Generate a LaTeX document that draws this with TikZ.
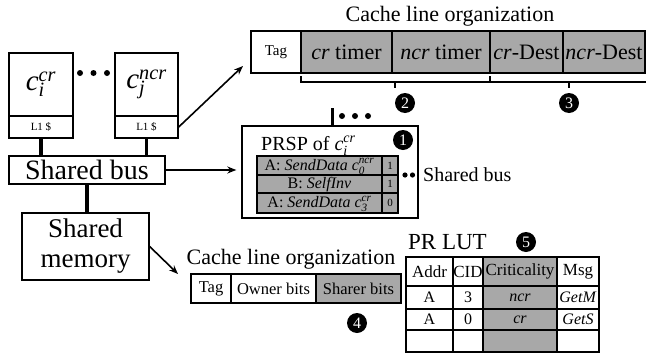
\documentclass[tikz,border=0pt]{standalone}
\usepackage{fontspec}
\setmainfont{Liberation Serif}
\usetikzlibrary{arrows.meta,calc}
\definecolor{cellgray}{RGB}{168,168,168}
\newcommand\fsz[1]{\fontsize{#1}{#1}\selectfont}
\newcommand\mkcell[7]{\node[#6, minimum width={#4-#2}, minimum height={#5-#3}] (#1) at ({(#2+#4)/2},{(#3+#5)/2}) {#7};}
\tikzset{
  box/.style={draw, line width=1.4pt, inner sep=0pt, fill=white},
  gbox/.style={box, fill=cellgray},
  rowtxt/.style={text height=12pt, text depth=3pt},
  bar/.style={line width=3.5pt},
  arr/.style={line width=1.6pt, -{Stealth[length=9pt,width=7pt]}},
  brk/.style={line width=1.2pt},
  numc/.style={circle, fill=black, text=white, minimum size=20pt, inner sep=0pt, font=\fsz{16}},
}
\begin{document}
\begin{tikzpicture}[x=1pt,y=-1pt]
\useasboundingbox (0,0) rectangle (646,362);
% cores
\mkcell{ci}{9}{53}{73}{116}{box, font=\fsz{29}}{$\mathit{c}_{\mathit{i}}^{\mathit{cr}}$}
\mkcell{ciL}{9}{116}{73}{138}{box, font=\fsz{11}}{L1 \$}
\mkcell{cj}{115}{53}{178}{116}{box, font=\fsz{29}}{$\mathit{c}_{\mathit{j}}^{\mathit{ncr}}$}
\mkcell{cjL}{115}{116}{178}{138}{box, font=\fsz{11}}{L1 \$}
\fill (80,73) circle (3pt) (93.5,73) circle (3pt) (107,73) circle (3pt);
% bus and memory
\mkcell{bus}{9}{156}{165}{184}{box, font=\fsz{28}}{Shared bus}
\mkcell{mem}{22}{213}{149}{280}{box, align=center, font=\fontsize{27}{30}\selectfont}{Shared\\memory}
\draw[bar] (ciL.south) -- (ciL.south |- bus.north);
\draw[bar] (cjL.south) -- (cjL.south |- bus.north);
\draw[bar, line width=4pt] (bus.south) -- (bus.south |- mem.north);
% top cache line
\node[font=\fsz{22}] (t1) at (450,16) {Cache line organization};
\mkcell{tag}{251}{31}{301}{73}{box, font=\fsz{15}}{Tag}
\mkcell{crt}{301}{31}{392}{73}{gbox, font=\fsz{22}}{\textit{cr} timer}
\mkcell{ncrt}{392}{31}{490}{73}{gbox, font=\fsz{22}}{\textit{ncr} timer}
\mkcell{crd}{490}{31}{563}{73}{gbox, font=\fsz{22}}{\textit{cr}-Dest}
\mkcell{ncrd}{563}{31}{645}{73}{gbox, font=\fsz{22}}{\textit{ncr}-Dest}
\draw[brk] (301,76) -- (301,82) -- (490,82) -- (490,76);
\draw[brk] (395,82) -- (395,88);
\draw[brk] (490,82) -- (646,82);
\draw[brk] (569,82) -- (569,88);
\node[numc] (n2) at (405,103) {2};
\node[numc] (n3) at (569,103) {3};
\coordinate (tagin) at (243,66);
\draw[arr] (cjL.east) -- (tagin);
% PRSP
\mkcell{prsp}{242}{126}{418}{218}{box}{}
\node[font=\fsz{20}, anchor=west, inner sep=0pt] (prspt) at (261,146) {PRSP of $\mathit{c}_{\mathit{i}}^{\mathit{cr}}$};
\node[numc] (n1) at (403,140) {1};
\coordinate (ptop) at (332,108);
\draw[bar, line width=3pt] (ptop) -- (ptop |- prsp.north);
\fill (342,116) circle (3pt) (355,116) circle (3pt) (368,116) circle (3pt);
\mkcell{r1}{257}{156}{382}{175}{gbox, rowtxt, font=\fsz{16}}{A: \textit{SendData} $\mathit{c}_{\mathit{0}}^{\mathit{ncr}}$}
\mkcell{r1b}{382}{156}{398}{175}{gbox, font=\fsz{11}}{1}
\mkcell{r2}{257}{175}{382}{193}{gbox, rowtxt, font=\fsz{16}}{B: \textit{SelfInv}}
\mkcell{r2b}{382}{175}{398}{193}{gbox, font=\fsz{11}}{1}
\mkcell{r3}{257}{193}{382}{213}{gbox, rowtxt, font=\fsz{16}}{A: \textit{SendData} $\mathit{c}_{\mathit{3}}^{\mathit{cr}}$}
\mkcell{r3b}{382}{193}{398}{213}{gbox, font=\fsz{11}}{0}
\draw[arr] (bus.east) -- ($(bus.east -| prsp.west)+(-5,0)$);
\fill (405,175) circle (2.6pt) (412.5,175) circle (2.6pt);
\node[font=\fsz{20}, anchor=west, inner sep=0pt] (sb2) at (423,175) {Shared bus};
% bottom cache line
\node[font=\fsz{22}] (t2) at (291,259) {Cache line organization};
\mkcell{btag}{191}{274}{231}{303}{box, font=\fsz{16.5}}{Tag}
\mkcell{bown}{231}{274}{316}{303}{box, font=\fsz{16.5}}{Owner bits}
\mkcell{bsh}{316}{274}{401}{303}{gbox, font=\fsz{16.5}}{Sharer bits}
\node[numc] (n4) at (357,323) {4};
\coordinate (memarr) at (178,274);
\draw[arr] (mem.east) -- (memarr);
% PR LUT
\node[font=\fsz{23}, anchor=west, inner sep=0pt] (lutt) at (408,242) {PR LUT};
\node[numc] (n5) at (526,242) {5};
\mkcell{h1}{406}{257}{453}{286}{box, font=\fsz{17}}{Addr}
\mkcell{h2}{453}{257}{483}{286}{box, font=\fsz{17}}{CID}
\mkcell{h3}{483}{257}{557}{286}{gbox, font=\fsz{17}}{Criticality}
\mkcell{h4}{557}{257}{599}{286}{box, font=\fsz{17}}{Msg}
\mkcell{a1}{406}{286}{453}{309}{box, font=\fsz{16}}{A}
\mkcell{a2}{453}{286}{483}{309}{box, font=\fsz{16}}{3}
\mkcell{a3}{483}{286}{557}{309}{gbox, font=\fsz{16}}{\textit{ncr}}
\mkcell{a4}{557}{286}{599}{309}{box, font=\fsz{16}}{\textit{GetM}}
\mkcell{b1}{406}{309}{453}{330}{box, font=\fsz{16}}{A}
\mkcell{b2}{453}{309}{483}{330}{box, font=\fsz{16}}{0}
\mkcell{b3}{483}{309}{557}{330}{gbox, font=\fsz{16}}{\textit{cr}}
\mkcell{b4}{557}{309}{599}{330}{box, font=\fsz{16}}{\textit{GetS}}
\mkcell{c1}{406}{330}{453}{352}{box}{}
\mkcell{c2}{453}{330}{483}{352}{box}{}
\mkcell{c3}{483}{330}{557}{352}{gbox}{}
\mkcell{c4}{557}{330}{599}{352}{box}{}
\end{tikzpicture}
\end{document}
